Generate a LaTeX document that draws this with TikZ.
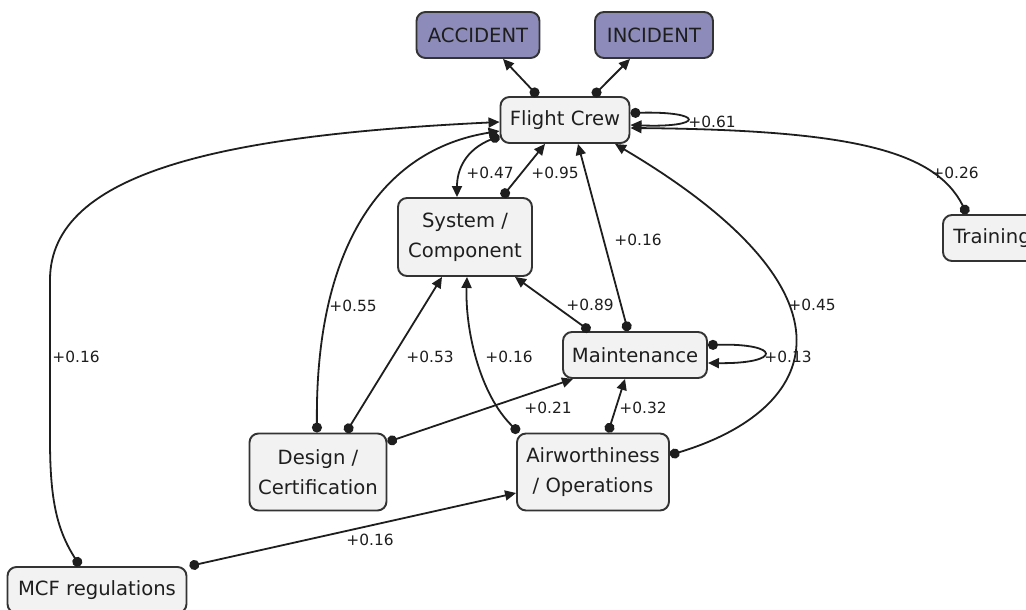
\documentclass[tikz,border=0pt]{standalone}
\usepackage{fontspec}
\setmainfont{DejaVu Sans}
\usetikzlibrary{arrows.meta}
\definecolor{boxfill}{HTML}{F2F2F2}
\definecolor{boxline}{HTML}{333333}
\definecolor{outcomefill}{HTML}{8C8BB9}
\definecolor{ink}{HTML}{1E1E1E}
\begin{document}
\begin{tikzpicture}[x=1pt,y=-1pt,
  factor/.style={draw=boxline, line width=1.9pt, fill=boxfill, rounded corners=9pt,
    inner sep=0pt, align=center, text=ink, font=\fontsize{19.6}{30}\selectfont},
  outcome/.style={factor, fill=outcomefill},
  link/.style={line width=1.8pt, draw=ink,
    {Circle[length=10pt]}-{Triangle[length=11pt,width=10pt]}},
  weight/.style={inner sep=0pt, text=ink, font=\fontsize{15.4}{18}\selectfont}]
\useasboundingbox (0,0) rectangle (1026,610);
\clip (0,0) rectangle (1026,610);
\fill[white] (0,0) rectangle (1026,610);

% factors
\node[outcome, minimum width=123pt, minimum height=46pt] (acc) at (478,35) {ACCIDENT};
\node[outcome, minimum width=118pt, minimum height=46pt] (inc) at (654,35) {INCIDENT};
\node[factor, minimum width=129pt, minimum height=46pt] (fc) at (565,120) {Flight Crew};
\node[factor, minimum width=134pt, minimum height=78pt] (sc) at (465,237) {System /\\Component};
\node[factor, minimum width=144pt, minimum height=46pt] (mt) at (635,355) {Maintenance};
\node[factor, minimum width=98pt, minimum height=46pt] (tr) at (992,238) {Training};
\node[factor, minimum width=137pt, minimum height=77pt] (ds) at (318,472) {Design /\\Certification};
\node[factor, minimum width=152pt, minimum height=77pt] (air) at (593,472) {Airworthiness\\/ Operations};
\node[factor, minimum width=179pt, minimum height=46pt] (mcf) at (97,590) {MCF regulations};

% weights
\node[weight] (w61) at (712,122) {+0.61};
\node[weight] (w26) at (955,173) {+0.26};
\node[weight] (w47) at (490,173) {+0.47};
\node[weight] (w95) at (555,173) {+0.95};
\node[weight] (w16a) at (638,240) {+0.16};
\node[weight] (w89) at (590,305) {+0.89};
\node[weight] (w53) at (430,357) {+0.53};
\node[weight] (w16b) at (509,357) {+0.16};
\node[weight] (w21) at (548,408) {+0.21};
\node[weight] (w32) at (643,408) {+0.32};
\node[weight] (w16c) at (370,540) {+0.16};
\node[weight] (w55) at (353,306) {+0.55};
\node[weight] (w16d) at (76,357) {+0.16};
\node[weight] (w45) at (812,305) {+0.45};
\node[weight] (w13) at (788,357) {+0.13};

% influences
\draw[link] ([xshift=-27pt]fc.north) -- ([xshift=25pt]acc.south);
\draw[link] ([xshift=28pt]fc.north) -- ([xshift=-24pt]inc.south);
\draw[link] ([yshift=7pt]fc.east) .. controls (705,111) and (705,128) .. ([yshift=-5pt]fc.east);
\draw[link] ([xshift=-25pt]tr.north) .. controls (935,150) and (850,130) .. ([yshift=-8pt]fc.east);
\draw[link] ([yshift=-16pt]fc.west) .. controls (465,150) and (457,170) .. ([xshift=-8pt]sc.north);
\draw[link] ([xshift=37pt]sc.north) -- ([xshift=-20pt]fc.south);
\draw[link] ([xshift=-7pt]mt.north) -- ([xshift=13pt]fc.south);
\draw[link] ([yshift=17pt]air.east) .. controls (820,410) and (870,295) .. ([xshift=50pt]fc.south);
\draw[link] ([xshift=-1pt]ds.north) .. controls (315,250) and (380,150) .. ([yshift=-11pt]fc.west);
\draw[link] ([xshift=-17pt]mcf.north) .. controls (57,530) and (50,500) .. (50,440)
  -- (50,280) .. controls (50,170) and (230,135) .. ([yshift=-2pt]fc.west);
\draw[link] ([xshift=-45pt]mt.north) -- ([xshift=50pt]sc.south);
\draw[link] ([xshift=28pt]ds.north) -- ([xshift=-23pt]sc.south);
\draw[link] ([xshift=-74pt]air.north) .. controls (480,395) and (465,330) .. ([xshift=2pt]sc.south);
\draw[link] ([yshift=30pt]ds.east) -- ([xshift=-62pt]mt.south);
\draw[link] ([xshift=15pt]air.north) -- ([xshift=-10pt]mt.south);
\draw[link] ([yshift=10pt]mt.east) .. controls (782,343) and (782,364) .. ([yshift=-8pt]mt.east);
\draw[link] ([xshift=2pt]mcf.north east) -- ([yshift=-21pt]air.west);
\end{tikzpicture}
\end{document}
